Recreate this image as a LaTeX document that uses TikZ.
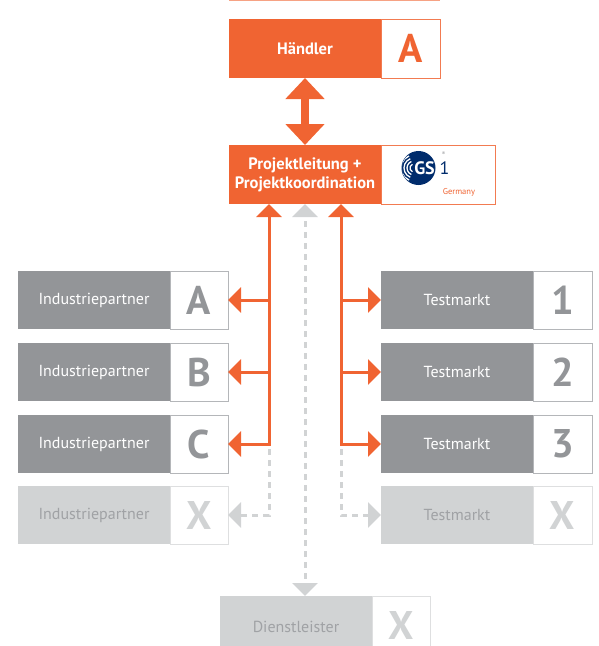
\documentclass[tikz,border=0pt]{standalone}
\usepackage{fontspec}
\setmainfont{PT Sans}
\usetikzlibrary{arrows.meta,positioning}

\definecolor{gsorange}{RGB}{240,100,50}
\definecolor{boxgray}{RGB}{147,149,152}
\definecolor{edgegray}{RGB}{180,182,185}
\definecolor{ghostgray}{RGB}{209,211,212}
\definecolor{ghostedge}{RGB}{222,223,224}
\definecolor{ghosttext}{RGB}{160,162,165}
\definecolor{gsblue}{RGB}{0,44,108}

\tikzset{
  otip/.tip={Triangle[width=25pt,length=13pt]},
  bigtip/.tip={Triangle[width=38pt,length=21pt]},
  partbox/.style={minimum width=152pt, minimum height=58pt, inner sep=0pt, outer sep=0pt, fill=boxgray, text=white, font=\fontsize{16}{18}\selectfont},
  ghostbox/.style={partbox, fill=ghostgray, text=ghosttext},
  letterbox/.style={minimum width=58pt, minimum height=58pt, inner sep=0pt, outer sep=0pt, fill=white, draw=edgegray, line width=0.8pt, text=boxgray, font=\fontsize{40}{40}\selectfont\bfseries},
  ghostletter/.style={letterbox, draw=ghostedge, text=ghostgray},
  leadbox/.style={partbox, minimum height=59pt, fill=gsorange, font=\fontsize{16.5}{19}\selectfont\bfseries, align=center},
  leadletter/.style={letterbox, minimum width=59pt, minimum height=59pt, draw=gsorange!85, text=gsorange},
  link/.style={draw=gsorange, line width=3pt, -otip},
  ghostlink/.style={draw=ghostgray, line width=3pt, dash pattern=on 6pt off 5pt, dash phase=6pt, -otip},
  bigarrow/.style={draw=gsorange, line width=8pt, bigtip-bigtip},
}

\begin{document}
\begin{tikzpicture}[x=1pt,y=-1pt]
\useasboundingbox (0,0) rectangle (598,646);
\clip (0,0) rectangle (598,646);

% edge of the box above
\draw[gsorange!60, line width=1pt] (229,0.5) -- (440,0.5);

% Haendler
\node[leadbox] (haendler) at (305,48.5) {Händler};
\node[leadletter, right=0pt of haendler] (haendlerl) {A};

% Projektleitung
\node[leadbox] (proj) at (305,174.5) {Projektleitung +\\Projektkoordination};
\node[leadletter, minimum width=114pt, right=0pt of proj] (logo) {};

% GS1 logo
\fill[gsblue] (418.5,168) circle[radius=17pt];
\begin{scope}
\clip (418.5,168) circle[radius=16.5pt];
\foreach \r in {4,7,10,13}
  \draw[white, line width=1.3pt] (414,168) ++(112:\r pt) arc[start angle=112, end angle=248, radius=\r pt];
\end{scope}
\node[text=white, font=\fontsize{18}{18}\selectfont\bfseries, inner sep=0pt] (gs) at (424.5,168.5) {GS};
\node[text=gsblue, font=\fontsize{18}{18}\selectfont, inner sep=0pt] (gsone) at (444.5,168.5) {1};
\node[text=boxgray, font=\fontsize{5}{5}\selectfont, inner sep=0pt] (gsreg) at (443.5,154) {®};
\node[text=gsorange, font=\fontsize{8.5}{9}\selectfont, inner sep=0pt] (gsland) at (459,192) {Germany};

% Industriepartner
\node[partbox] (indA) at (94,300) {Industriepartner};
\node[letterbox, right=0pt of indA] (indAl) {A};
\node[partbox] (indB) at (94,372) {Industriepartner};
\node[letterbox, right=0pt of indB] (indBl) {B};
\node[partbox] (indC) at (94,444) {Industriepartner};
\node[letterbox, right=0pt of indC] (indCl) {C};
\node[ghostbox] (indX) at (94,515) {Industriepartner};
\node[ghostletter, right=0pt of indX] (indXl) {X};

% Testmarkt
\node[partbox] (testA) at (457,300) {Testmarkt};
\node[letterbox, minimum width=59pt, right=0pt of testA] (testAl) {1};
\node[partbox] (testB) at (457,372) {Testmarkt};
\node[letterbox, minimum width=59pt, right=0pt of testB] (testBl) {2};
\node[partbox] (testC) at (457,444) {Testmarkt};
\node[letterbox, minimum width=59pt, right=0pt of testC] (testCl) {3};
\node[ghostbox] (testX) at (457,515) {Testmarkt};
\node[ghostletter, minimum width=59pt, right=0pt of testX] (testXl) {X};

% Dienstleister (cut off at the bottom edge)
\node[ghostbox, minimum height=50pt, text height=22pt, text depth=0pt] (dienst) at (296,621) {Dienstleister};
\node[ghostletter, minimum height=50pt, text height=36pt, text depth=0pt, right=0pt of dienst] (dienstl) {X};

% Verbindungen
\coordinate (trunkL) at ([xshift=-36pt]proj.south);
\coordinate (trunkR) at ([xshift=36pt]proj.south);

\draw[bigarrow] (haendler.south) -- (proj.north);

\draw[link, otip-otip] (indCl.east) -- (trunkL |- indCl.east) -- (trunkL);
\draw[link] (trunkL |- indAl.east) -- (indAl.east);
\draw[link] (trunkL |- indBl.east) -- (indBl.east);
\draw[link, otip-otip] (testC.west) -- (trunkR |- testC.west) -- (trunkR);
\draw[link] (trunkR |- testA.west) -- (testA.west);
\draw[link] (trunkR |- testB.west) -- (testB.west);

\draw[ghostlink] (trunkL |- indCl.east) -- (trunkL |- indXl.east) -- (indXl.east);
\draw[ghostlink] (trunkR |- testC.west) -- (trunkR |- testX.west) -- (testX.west);
\draw[ghostlink, otip-otip] (proj.south) -- (proj.south |- dienst.north);

\end{tikzpicture}
\end{document}
